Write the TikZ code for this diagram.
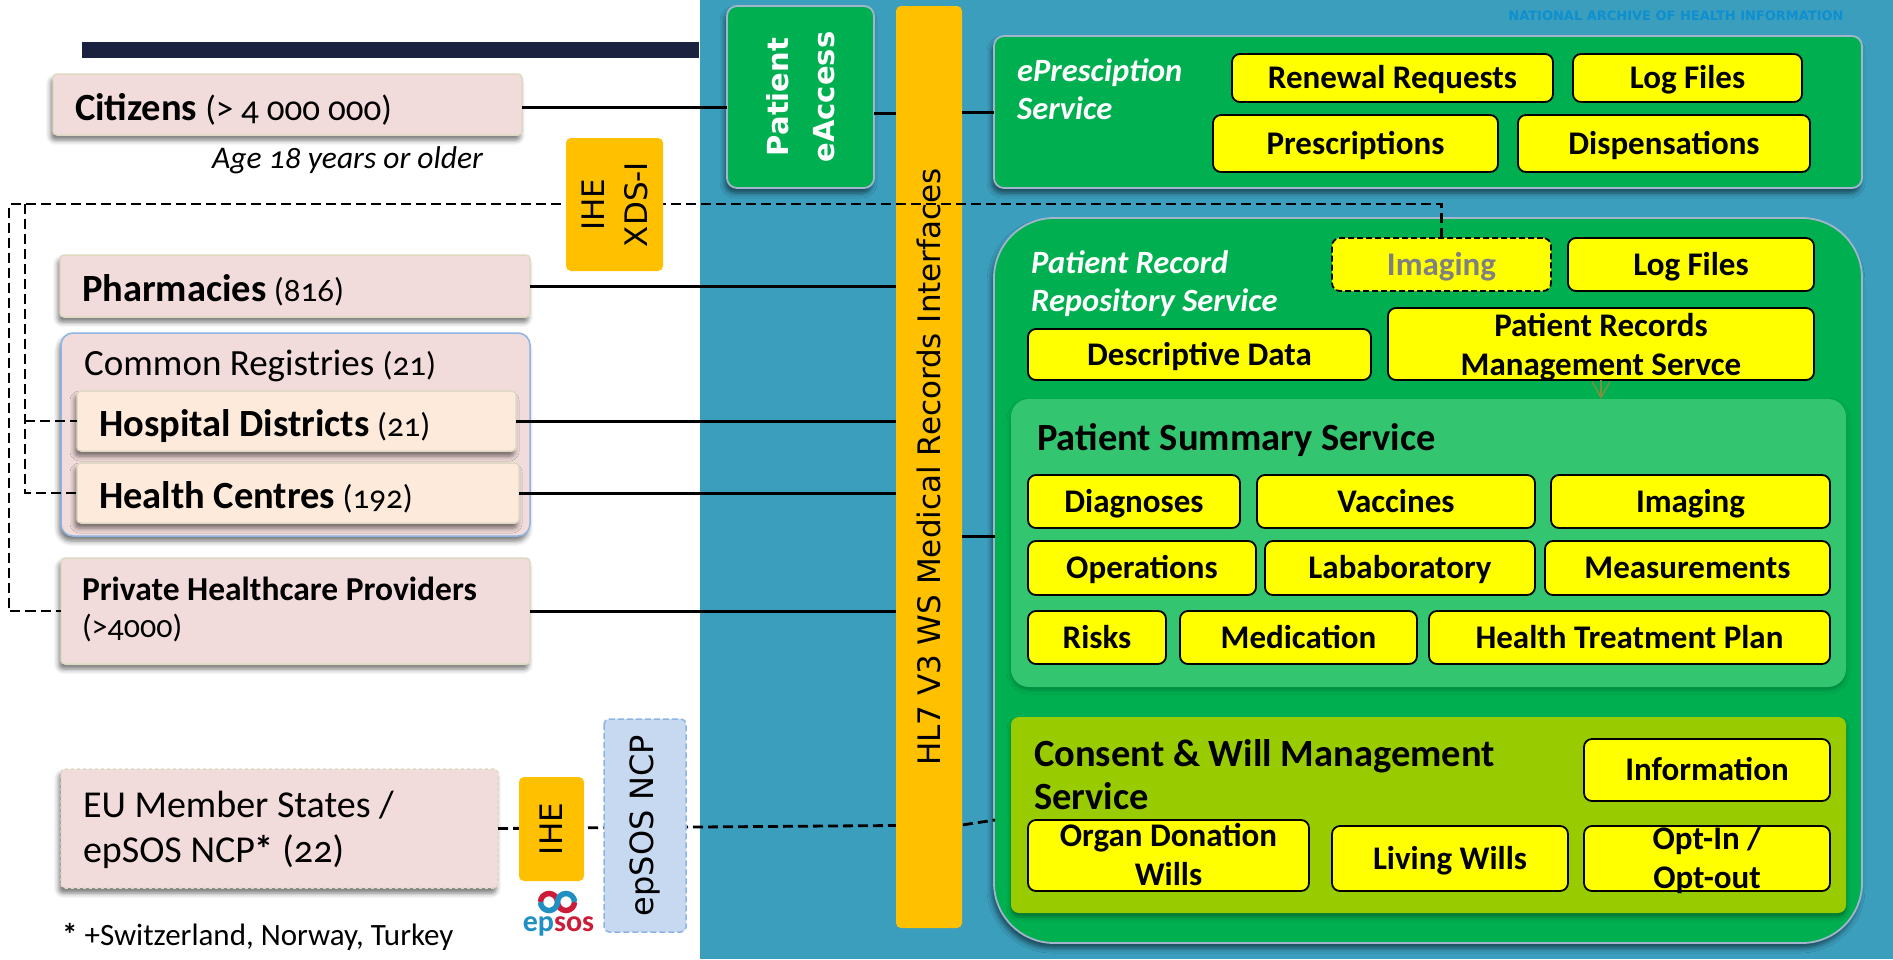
\documentclass[tikz,border=0pt]{standalone}
\usepackage{fontspec}
\setmainfont[Numbers=OldStyle]{Carlito}
\newfontfamily\widefont{DejaVu Sans}
\usepackage{tikz}
\usetikzlibrary{shadows.blur,arrows.meta}
\definecolor{panelblue}{HTML}{3B9EBD}
\definecolor{barnavy}{HTML}{1A2240}
\definecolor{rosefill}{HTML}{F2DCDB}
\definecolor{rosedraw}{HTML}{DDD9C3}
\definecolor{peachfill}{HTML}{FDEADA}
\definecolor{amberfill}{HTML}{FFC000}
\definecolor{itemyellow}{RGB}{255,255,0}
\definecolor{servicegreen}{HTML}{00B050}
\definecolor{serviceedge}{HTML}{A3B4CF}
\definecolor{summarygreen}{HTML}{33C570}
\definecolor{consentgreen}{HTML}{99CC00}
\definecolor{skyfill}{HTML}{C6D9F1}
\definecolor{skydraw}{HTML}{8DB4E2}
\definecolor{archiveblue}{HTML}{0E8FD0}
\definecolor{arrowolive}{HTML}{7F8F3F}
\definecolor{logored}{HTML}{CE1B38}
\definecolor{logoblue}{HTML}{1F8FC4}
\tikzset{
  box/.style 2 args={anchor=north west,inner sep=0pt,outer sep=0pt,
    minimum width=#1,minimum height=#2},
  softshadow/.style={blur shadow={shadow xshift=-2pt,shadow yshift=-5pt,shadow blur radius=5pt,shadow opacity=55}},
  rosebox/.style 2 args={box={#1}{#2},text width=#1pt-44pt,inner xsep=22pt,align=flush left,
    fill=rosefill,draw=rosedraw,line width=1.5pt,rounded corners=4pt,softshadow,
    font=\leftfont,text height=31pt,text depth=0pt},
  peachbox/.style 2 args={rosebox={#1}{#2},fill=peachfill},
  itembox/.style 2 args={box={#1}{#2},align=center,fill=itemyellow,draw=black,line width=1.8pt,
    rounded corners=8pt,font=\itemfont,text height=21pt,text depth=0pt},
  sidebox/.style 2 args={anchor=center,inner sep=0pt,outer sep=0pt,rotate=90,align=center,
    minimum width=#1,minimum height=#2,rounded corners=5pt,font=\sidefont},
  panel/.style n args={3}{box={#1}{#2},fill=servicegreen,draw=serviceedge,line width=1.8pt,
    rounded corners=#3,softshadow},
  wire/.style={black,line width=3pt},
  dashwire/.style={black,line width=2.8pt,dash pattern=on 10pt off 5pt},
  servicetitle/.style={anchor=west,align=flush left,inner sep=0pt,text=white,font=\titlefont},
  darktitle/.style={align=flush left,inner sep=0pt,font=\darkfont}
}
\newcommand{\itemfont}{\fontsize{33}{39}\selectfont\bfseries}
\newcommand{\titlefont}{\fontsize{32.5}{38}\selectfont\bfseries\itshape}
\newcommand{\darkfont}{\fontsize{38.5}{43}\selectfont\bfseries}
\newcommand{\sidefont}{\fontsize{31}{43}\selectfont\widefont}
\newcommand{\leftfont}{\fontsize{33}{40}\selectfont}
\newcommand{\leftbold}{\fontsize{38.5}{40}\selectfont\bfseries}
\begin{document}
\begin{tikzpicture}[x=1pt,y=-1pt]
  \useasboundingbox (0,0) rectangle (1893,959);
  \fill[panelblue] (700,0) rectangle (1893,959);
  \fill[barnavy] (82,42) rectangle (699,58);
  \node[archiveblue,inner sep=0pt,font=\fontsize{13}{14}\selectfont\widefont\bfseries] (archive) at (1676,16)
    {NATIONAL ARCHIVE OF HEALTH INFORMATION};

  \node[rosebox={469}{61},font=\fontsize{35}{40}\selectfont] (citizens) at (53,74) {{\leftbold Citizens} (> 4 000 000)};
  \node[anchor=base west,inner sep=0pt,font=\fontsize{31.5}{35}\selectfont\itshape] (agenote) at (212,168) {Age 18 years or older};
  \node[rosebox={470}{62}] (pharmacies) at (60,255) {{\leftbold Pharmacies} (816)};
  \node[rosebox={469}{203},draw=skydraw,rounded corners=12pt] (common) at (61,333) {};
  \node[anchor=base west,inner sep=0pt,font=\fontsize{37}{40}\selectfont] (commonlabel) at (84,375) {Common Registries {\leftfont (21)}};
  \node[peachbox={439}{60}] (hospital) at (77,391) {{\leftbold Hospital Districts} (21)};
  \node[peachbox={442}{60}] (health) at (77,463) {{\leftbold Health Centres} (192)};
  \node[rosebox={469}{106},inner xsep=21pt,text width=427pt,text height=0pt,text depth=21pt,font=\fontsize{32}{37}\selectfont] (private) at (61,558)
    {{\fontsize{33.5}{37}\selectfont\bfseries Private Healthcare Providers}\\(>4000)};
  \node[rosebox={437}{119},dashed,text height=0pt,text depth=22pt,font=\fontsize{38}{45}\selectfont] (eumember) at (61,769)
    {EU Member States /\\epSOS NCP{\bfseries*} (22)};
  \node[anchor=base west,inner sep=0pt,font=\fontsize{31}{34}\selectfont] (footnote) at (62,945)
    {{\bfseries*} +Switzerland, Norway, Turkey};

  \node[panel={868}{152}{10pt}] (epresc) at (994,36) {};
  \node[servicetitle] (epresctitle) at (1017,89) {ePresciption\\Service};
  \node[itembox={321}{48}] (renewal) at (1232,54) {Renewal Requests};
  \node[itembox={229}{48}] (presclog) at (1573,54) {Log Files};
  \node[itembox={285}{57}] (prescriptions) at (1213,115) {Prescriptions};
  \node[itembox={292}{57}] (dispensations) at (1518,115) {Dispensations};

  \node[panel={868}{725}{60pt}] (record) at (994,218) {};
  \node[servicetitle] (recordtitle) at (1031,284) {Patient Record\\Repository Service};
  \node[itembox={219}{53},dash pattern=on 6pt off 3pt,text=gray] (imaging) at (1332,238) {Imaging};
  \node[itembox={246}{53}] (recordlog) at (1568,238) {Log Files};
  \node[itembox={343}{51}] (descriptive) at (1028,329) {Descriptive Data};
  \node[itembox={426}{72},text height=62pt] (management) at (1388,308) {Patient Records\\Management Servce};

  \node[box={835}{288},fill=summarygreen,rounded corners=18pt,
    blur shadow={shadow xshift=0pt,shadow yshift=-3pt,shadow blur radius=4pt,shadow opacity=25}] (summary) at (1011,399) {};
  \node[darktitle,anchor=base west] (summarytitle) at (1037,450) {Patient Summary Service};
  \node[itembox={212}{53}] (diagnoses) at (1028,475) {Diagnoses};
  \node[itembox={278}{53}] (vaccines) at (1257,475) {Vaccines};
  \node[itembox={279}{53}] (sumimaging) at (1551,475) {Imaging};
  \node[itembox={228}{54}] (operations) at (1028,541) {Operations};
  \node[itembox={270}{54}] (laboratory) at (1265,541) {Lababoratory};
  \node[itembox={285}{54}] (measurements) at (1545,541) {Measurements};
  \node[itembox={138}{53}] (risks) at (1028,611) {Risks};
  \node[itembox={237}{53}] (medication) at (1180,611) {Medication};
  \node[itembox={401}{53}] (treatment) at (1429,611) {Health Treatment Plan};
  \draw[arrowolive,line width=1.5pt,-{Straight Barb[length=16pt,width=18pt]}] (management.south) -- (management.south |- summary.north);

  \node[box={835}{196},fill=consentgreen,rounded corners=8pt,
    blur shadow={shadow xshift=0pt,shadow yshift=-4pt,shadow blur radius=4pt,shadow opacity=35}] (consent) at (1011,717) {};
  \node[darktitle,anchor=west] (consenttitle) at (1034,775) {Consent \& Will Management\\Service};
  \node[itembox={246}{62}] (information) at (1584,739) {Information};
  \node[itembox={281}{71},text height=59pt] (organ) at (1028,820) {Organ Donation\\Wills};
  \node[itembox={236}{65}] (living) at (1332,826) {Living Wills};
  \node[itembox={246}{65},text height=59pt] (optin) at (1584,826) {Opt-In /\\Opt-out};

  \node[sidebox={182}{147},fill=servicegreen,draw=serviceedge,line width=1.8pt,text=white,softshadow,rounded corners=10pt,
    font=\fontsize{29}{46}\selectfont\widefont\bfseries] (eaccess) at (800.5,97) {Patient\\eAccess};
  \coordinate (eaccessport) at (874,113);
  \coordinate (epsosbend) at (962,825);
  \coordinate (epsosport) at (995,820);
  \coordinate (recordport) at (995,536);
  \draw[dashwire] (eumember.east) -- (epsosbend) -- (epsosport);
  \node[sidebox={922}{66},fill=amberfill] (hl7) at (929,467) {HL7 V3 WS Medical Records Interfaces};
  \node[sidebox={104}{65},fill=amberfill] (ihe) at (551.5,829) {IHE};
  \node[sidebox={213}{82},fill=skyfill,draw=skydraw,dash pattern=on 6pt off 3pt,line width=1.5pt,
    font=\fontsize{32}{43}\selectfont\widefont] (ncp) at (645,825.5) {epSOS NCP};

  \draw[wire] ([yshift=-2.5pt]citizens.east) -- ([yshift=-2.5pt]citizens.east -| eaccess.north);
  \draw[wire] (eaccessport) -- (eaccessport -| hl7.north);
  \draw[wire] (hl7.south |- epresc.west) -- (epresc.west);
  \draw[wire] (pharmacies.east) -- (pharmacies.east -| hl7.north);
  \draw[wire] (hospital.east) -- (hospital.east -| hl7.north);
  \draw[wire] (health.east) -- (health.east -| hl7.north);
  \draw[wire] (private.east) -- (private.east -| hl7.north);
  \draw[wire] (hl7.south |- recordport) -- (recordport);

  \coordinate (dashouter) at (9,204);
  \coordinate (dashinner) at (25,204);
  \draw[dashwire] (imaging.north) |- (dashouter) -- (dashouter |- private.west) -- (private.west);
  \draw[dashwire] (dashinner) |- (health.west);
  \draw[dashwire] (dashinner |- hospital.west) -- (hospital.west);
  \node[sidebox={133}{97},fill=amberfill] (xds) at (614.5,204.5) {IHE\\XDS-I};

  \draw[logored,line width=5.5pt] (540.5,902) arc (180:360:8.5) arc (180:0:8.5);
  \draw[logoblue,line width=5.5pt] (540.5,902) arc (180:0:8.5) arc (180:360:8.5);
  \node[inner sep=0pt,font=\fontsize{30}{32}\selectfont\bfseries] (epsoslogo) at (558.5,926)
    {\textcolor{logoblue}{ep}\textcolor{logored}{sos}};
\end{tikzpicture}
\end{document}
